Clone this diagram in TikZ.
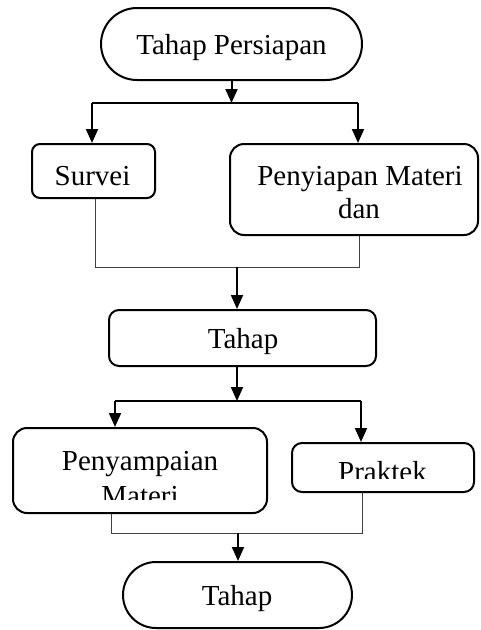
\documentclass[tikz,border=0pt]{standalone}
\usepackage{fontspec}
\setmainfont{Liberation Serif}
\usetikzlibrary{arrows.meta}
\begin{document}
\begin{tikzpicture}[x=1pt,y=-1pt,
  flowbox/.style={draw,line width=2pt,inner sep=0pt,rounded corners=#1},
  flowbox/.default=10pt,
  txt/.style={anchor=base,inner sep=0pt,font=\fontsize{29}{33}\selectfont},
  arr/.style={line width=2pt,-{Triangle[width=12pt,length=14pt]}},
  bar/.style={line width=1.3pt},
  thinline/.style={line width=1pt,draw=black!75}
]
\useasboundingbox (0,0) rectangle (480,630);
% shapes
\node[flowbox=36pt,minimum width=261pt,minimum height=72pt] (top) at (231.5,44) {};
\node[flowbox=8pt,minimum width=123pt,minimum height=54pt] (survei) at (93.5,171) {};
\node[flowbox=14pt,minimum width=248pt,minimum height=91pt] (pen) at (354,189.5) {};
\node[flowbox=10pt,minimum width=267pt,minimum height=56pt] (tahap) at (242.5,338) {};
\node[flowbox=14pt,minimum width=254pt,minimum height=85pt] (samp) at (140,470.5) {};
\node[flowbox=10pt,minimum width=182pt,minimum height=49pt] (prak) at (383,467.5) {};
\node[flowbox=33pt,minimum width=229pt,minimum height=66pt] (end) at (237.5,595) {};
% texts
\node[txt] (t1) at (231.5,54) {Tahap Persiapan};
\node[txt] (t2) at (92.5,185) {Survei};
\node[txt] (t3) at (360,185) {Penyiapan Materi};
\node[txt] (t4) at (359,218) {dan};
\node[txt] (t5) at (243,348) {Tahap};
\node[txt] (t6) at (140,470) {Penyampaian};
\begin{scope}
\clip (13,428) rectangle (267,499);
\node[txt] (t7) at (140,505) {Materi};
\end{scope}
\begin{scope}
\clip (292,443) rectangle (474,478.5);
\node[txt] (t8) at (382.5,481) {Praktek};
\end{scope}
\node[txt] (t9) at (237,605) {Tahap};
% connectors
\coordinate (j1) at (231.5,103);
\coordinate (jl) at (92,103);
\coordinate (jr) at (358,103);
\draw[arr] (top.south) -- (j1);
\draw[bar] (jl) -- (jr);
\draw[arr] (jl) -- (jl |- survei.north);
\draw[arr] (jr) -- (jr |- pen.north);
\coordinate (m1) at (95,267);
\coordinate (m2) at (359,267);
\coordinate (m) at (237,267);
\draw[thinline] (m1 |- survei.south) -- (m1) -- (m2) -- (m2 |- pen.south);
\draw[arr] (m) -- (m |- tahap.north);
\coordinate (j2) at (237,401);
\coordinate (j2l) at (115,401);
\coordinate (j2r) at (361,401);
\draw[arr] (j2 |- tahap.south) -- (j2);
\draw[bar] (j2l) -- (j2r);
\draw[arr] (j2l) -- (j2l |- samp.north);
\draw[arr] (j2r) -- (j2r |- prak.north);
\coordinate (b1) at (111,533);
\coordinate (b2) at (362,533);
\coordinate (b) at (238,533);
\draw[thinline] (b1 |- samp.south) -- (b1) -- (b2) -- (b2 |- prak.south);
\draw[arr] (b) -- (b |- end.north);
\end{tikzpicture}
\end{document}
